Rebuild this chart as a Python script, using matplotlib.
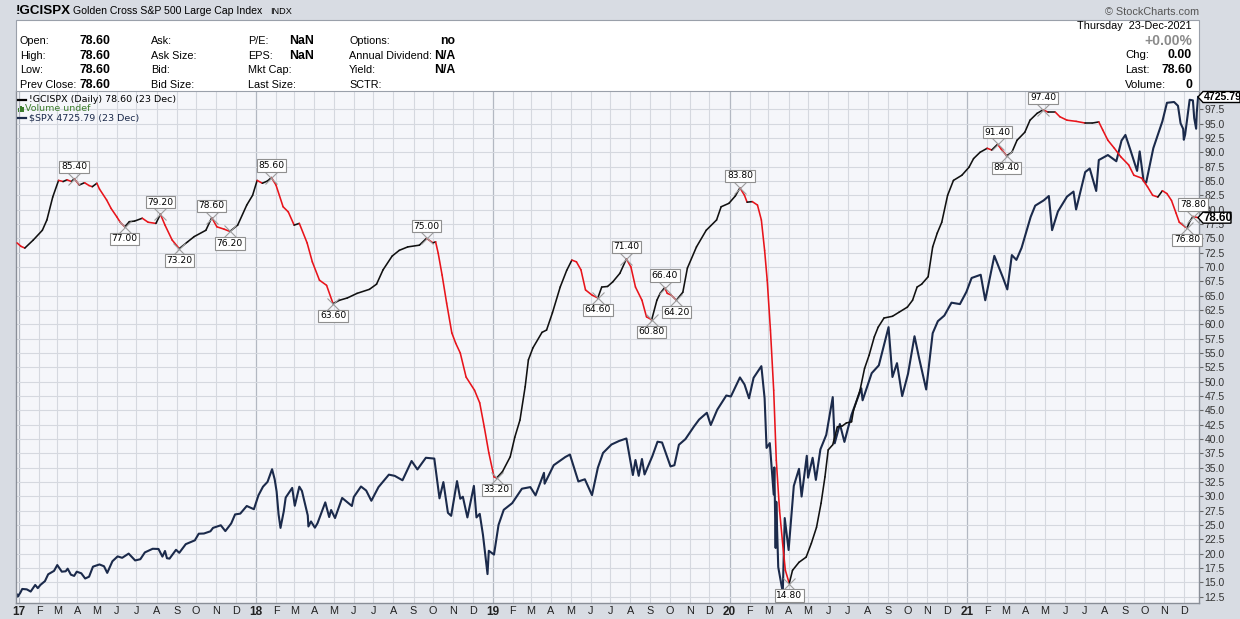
import datetime as dt
import numpy as np
import matplotlib
matplotlib.use("Agg")
import matplotlib.pyplot as plt
import matplotlib.dates as mdates
from matplotlib.collections import LineCollection
from matplotlib.lines import Line2D
from matplotlib.patches import Rectangle, Polygon
from matplotlib.transforms import IdentityTransform

# ---------------- data ----------------
gc_dates = [
    "2016-12-29", "2017-01-04", "2017-01-10", "2017-01-23", "2017-02-06", "2017-02-13", "2017-02-22",
    "2017-03-03", "2017-03-10", "2017-03-16", "2017-03-23", "2017-03-27", "2017-04-04", "2017-04-12",
    "2017-04-19", "2017-04-24", "2017-05-01", "2017-05-05", "2017-05-16", "2017-05-23", "2017-06-01",
    "2017-06-06", "2017-06-13", "2017-06-20", "2017-06-28", "2017-07-10", "2017-07-19", "2017-07-31",
    "2017-08-07", "2017-08-14", "2017-08-25", "2017-09-05", "2017-09-18", "2017-09-28", "2017-10-16",
    "2017-10-25", "2017-11-02", "2017-11-13", "2017-11-22", "2017-12-04", "2017-12-18", "2017-12-27",
    "2018-01-03", "2018-01-11", "2018-01-19", "2018-01-25", "2018-02-01", "2018-02-12", "2018-02-20",
    "2018-03-01", "2018-03-09", "2018-03-21", "2018-03-29", "2018-04-09", "2018-04-20", "2018-04-30",
    "2018-05-10", "2018-05-22", "2018-06-06", "2018-06-25", "2018-07-06", "2018-07-16", "2018-07-30",
    "2018-08-10", "2018-08-23", "2018-09-10", "2018-09-21", "2018-10-01", "2018-10-05", "2018-10-09",
    "2018-10-15", "2018-10-22", "2018-10-30", "2018-11-05", "2018-11-12", "2018-11-21", "2018-12-04",
    "2018-12-12", "2018-12-19", "2018-12-26", "2019-01-03", "2019-01-07", "2019-01-16", "2019-01-28",
    "2019-02-04", "2019-02-12", "2019-02-20", "2019-02-25", "2019-03-04", "2019-03-18", "2019-03-25",
    "2019-04-03", "2019-04-15", "2019-04-25", "2019-05-03", "2019-05-10", "2019-05-17", "2019-05-24",
    "2019-06-03", "2019-06-12", "2019-06-18", "2019-06-27", "2019-07-05", "2019-07-16", "2019-07-26",
    "2019-08-02", "2019-08-09", "2019-08-19", "2019-08-26", "2019-09-03", "2019-09-11", "2019-09-16",
    "2019-09-23", "2019-09-27", "2019-10-03", "2019-10-11", "2019-10-21", "2019-10-28", "2019-11-11",
    "2019-11-26", "2019-12-12", "2019-12-19", "2019-12-31", "2020-01-10", "2020-01-17", "2020-01-24",
    "2020-01-28", "2020-02-05", "2020-02-13", "2020-02-19", "2020-02-24", "2020-02-28", "2020-03-04",
    "2020-03-09", "2020-03-13", "2020-03-18", "2020-03-23", "2020-03-27", "2020-04-02", "2020-04-07",
    "2020-04-17", "2020-04-28", "2020-05-06", "2020-05-14", "2020-05-21", "2020-05-27", "2020-06-01",
    "2020-06-08", "2020-06-15", "2020-06-23", "2020-06-29", "2020-07-07", "2020-07-10", "2020-07-20",
    "2020-07-27", "2020-08-03", "2020-08-11", "2020-08-17", "2020-08-26", "2020-09-08", "2020-09-18",
    "2020-10-01", "2020-10-09", "2020-10-16", "2020-10-23", "2020-11-02", "2020-11-09", "2020-11-16",
    "2020-11-23", "2020-12-02", "2020-12-11", "2020-12-24", "2021-01-04", "2021-01-11", "2021-01-21",
    "2021-02-01", "2021-02-08", "2021-02-17", "2021-02-23", "2021-03-03", "2021-03-11", "2021-03-19",
    "2021-03-31", "2021-04-08", "2021-04-19", "2021-04-28", "2021-05-06", "2021-05-17", "2021-05-24",
    "2021-06-04", "2021-06-18", "2021-07-02", "2021-07-13", "2021-07-23", "2021-07-29", "2021-08-06",
    "2021-08-16", "2021-08-26", "2021-09-07", "2021-09-15", "2021-09-27", "2021-10-06", "2021-10-14",
    "2021-10-22", "2021-10-29", "2021-11-05", "2021-11-12", "2021-11-19", "2021-11-24", "2021-12-03",
    "2021-12-06", "2021-12-10", "2021-12-15", "2021-12-23",
]
gc_values = [
    74.2, 73.6, 73.3, 74.7, 76.4, 78.2, 82.2,
    85.1, 84.9, 85.2, 84.9, 85.4, 84.3, 84.7,
    84.2, 84.0, 84.6, 83.6, 81.7, 80.2, 78.7,
    77.8, 77.0, 77.9, 78.0, 78.5, 77.8, 77.6,
    79.2, 77.3, 74.7, 73.2, 74.4, 75.3, 76.4,
    78.6, 77.0, 76.6, 76.2, 77.3, 80.8, 82.5,
    85.1, 84.6, 85.0, 85.6, 84.3, 80.5, 79.6,
    77.3, 77.6, 74.2, 70.9, 67.7, 66.8, 63.6,
    64.2, 64.6, 65.4, 66.1, 67.0, 69.5, 71.9,
    72.9, 73.5, 73.8, 75.0, 74.2, 74.4, 72.4,
    68.6, 63.7, 58.5, 56.7, 55.0, 50.8, 48.5,
    46.3, 42.1, 37.6, 33.4, 33.2, 34.3, 36.9,
    40.3, 43.3, 49.1, 53.8, 55.9, 58.6, 59.0,
    62.0, 66.5, 69.4, 71.2, 70.9, 69.5, 66.0,
    65.1, 64.6, 66.5, 66.6, 67.4, 68.9, 71.4,
    70.0, 66.5, 64.2, 61.3, 60.8, 64.2, 65.4,
    66.4, 65.4, 65.1, 64.2, 65.6, 69.8, 73.5,
    76.4, 78.2, 80.5, 81.1, 82.4, 83.8, 82.5,
    81.3, 81.4, 80.8, 78.2, 72.9, 67.7, 59.0,
    48.5, 36.3, 27.6, 21.5, 17.1, 14.8, 17.1,
    18.5, 19.4, 21.8, 24.6, 28.8, 33.4, 38.1,
    39.0, 42.1, 42.3, 42.8, 43.0, 45.0, 48.5,
    52.3, 54.6, 57.8, 59.5, 61.1, 61.4, 62.1,
    63.0, 64.2, 66.5, 67.0, 68.3, 73.5, 75.9,
    77.8, 82.5, 85.1, 86.0, 87.4, 88.9, 90.0,
    90.7, 90.4, 91.4, 90.5, 89.4, 90.0, 92.1,
    93.5, 95.6, 96.8, 97.4, 97.0, 97.0, 96.2,
    95.6, 95.4, 95.1, 95.1, 95.3, 93.9, 92.1,
    90.7, 89.2, 87.8, 86.0, 85.5, 84.0, 82.5,
    82.2, 83.3, 82.8, 81.6, 79.4, 77.8, 77.0,
    76.8, 77.9, 78.8, 78.6,
]

spx_dates = [
    "2016-12-29", "2016-12-30", "2017-01-03", "2017-01-06", "2017-01-13", "2017-01-19", "2017-01-26",
    "2017-01-30", "2017-02-03", "2017-02-10", "2017-02-15", "2017-02-24", "2017-03-01", "2017-03-08",
    "2017-03-14", "2017-03-17", "2017-03-22", "2017-03-27", "2017-03-31", "2017-04-07", "2017-04-13",
    "2017-04-19", "2017-04-25", "2017-05-05", "2017-05-12", "2017-05-17", "2017-05-25", "2017-06-02",
    "2017-06-09", "2017-06-19", "2017-06-29", "2017-07-07", "2017-07-14", "2017-07-26", "2017-08-04",
    "2017-08-10", "2017-08-14", "2017-08-17", "2017-08-21", "2017-08-31", "2017-09-05", "2017-09-15",
    "2017-09-29", "2017-10-05", "2017-10-13", "2017-10-23", "2017-10-27", "2017-11-08", "2017-11-15",
    "2017-11-24", "2017-11-30", "2017-12-08", "2017-12-18", "2017-12-29", "2018-01-05", "2018-01-12",
    "2018-01-19", "2018-01-26", "2018-01-30", "2018-02-02", "2018-02-05", "2018-02-08", "2018-02-13",
    "2018-02-16", "2018-02-26", "2018-03-02", "2018-03-09", "2018-03-13", "2018-03-22", "2018-03-23",
    "2018-03-27", "2018-04-02", "2018-04-06", "2018-04-18", "2018-04-24", "2018-04-27", "2018-05-03",
    "2018-05-14", "2018-05-29", "2018-06-01", "2018-06-12", "2018-06-20", "2018-06-28", "2018-07-09",
    "2018-07-25", "2018-08-03", "2018-08-15", "2018-08-29", "2018-09-07", "2018-09-20", "2018-10-03",
    "2018-10-11", "2018-10-17", "2018-10-24", "2018-10-29", "2018-11-07", "2018-11-12", "2018-11-16",
    "2018-11-23", "2018-12-03", "2018-12-07", "2018-12-12", "2018-12-17", "2018-12-24", "2018-12-26",
    "2019-01-03", "2019-01-10", "2019-01-18", "2019-01-31", "2019-02-15", "2019-02-28", "2019-03-08",
    "2019-03-21", "2019-03-22", "2019-04-05", "2019-04-23", "2019-04-30", "2019-05-13", "2019-05-23",
    "2019-06-03", "2019-06-12", "2019-06-20", "2019-07-03", "2019-07-15", "2019-07-26", "2019-08-05",
    "2019-08-09", "2019-08-14", "2019-08-19", "2019-08-23", "2019-09-04", "2019-09-12", "2019-09-19",
    "2019-10-02", "2019-10-08", "2019-10-15", "2019-10-25", "2019-11-07", "2019-11-15", "2019-11-27",
    "2019-12-03", "2019-12-13", "2019-12-27", "2020-01-03", "2020-01-17", "2020-01-24", "2020-01-31",
    "2020-02-07", "2020-02-19", "2020-02-24", "2020-02-27", "2020-03-03", "2020-03-09", "2020-03-10",
    "2020-03-12", "2020-03-13", "2020-03-16", "2020-03-23", "2020-03-26", "2020-04-01", "2020-04-09",
    "2020-04-17", "2020-04-21", "2020-04-29", "2020-05-01", "2020-05-08", "2020-05-13", "2020-05-20",
    "2020-05-29", "2020-06-08", "2020-06-11", "2020-06-19", "2020-06-26", "2020-07-07", "2020-07-22",
    "2020-07-24", "2020-08-07", "2020-08-18", "2020-09-02", "2020-09-08", "2020-09-15", "2020-09-23",
    "2020-10-02", "2020-10-12", "2020-10-19", "2020-10-30", "2020-11-09", "2020-11-17", "2020-11-27",
    "2020-12-08", "2020-12-21", "2020-12-31", "2021-01-08", "2021-01-22", "2021-01-29", "2021-02-12",
    "2021-02-25", "2021-03-04", "2021-03-11", "2021-03-18", "2021-03-26", "2021-04-09", "2021-04-16",
    "2021-04-29", "2021-05-07", "2021-05-12", "2021-05-21", "2021-06-04", "2021-06-14", "2021-06-18",
    "2021-07-02", "2021-07-09", "2021-07-19", "2021-07-23", "2021-08-06", "2021-08-19", "2021-08-27",
    "2021-09-02", "2021-09-10", "2021-09-20", "2021-09-24", "2021-09-30", "2021-10-04", "2021-10-15",
    "2021-10-29", "2021-11-05", "2021-11-16", "2021-11-22", "2021-11-26", "2021-11-30", "2021-12-01",
    "2021-12-03", "2021-12-10", "2021-12-15", "2021-12-17", "2021-12-20", "2021-12-21", "2021-12-23",
]
spx_values = [
    2249, 2239, 2258, 2277, 2275, 2264, 2297,
    2281, 2297, 2316, 2350, 2367, 2396, 2363,
    2365, 2378, 2348, 2342, 2363, 2355, 2329,
    2338, 2388, 2399, 2390, 2357, 2415, 2439,
    2432, 2453, 2419, 2425, 2459, 2477, 2476,
    2438, 2466, 2430, 2428, 2472, 2457, 2500,
    2519, 2552, 2553, 2564, 2581, 2594, 2565,
    2603, 2648, 2652, 2690, 2674, 2743, 2786,
    2810, 2873, 2823, 2762, 2649, 2581, 2663,
    2732, 2780, 2691, 2786, 2765, 2643, 2588,
    2613, 2582, 2604, 2708, 2635, 2670, 2630,
    2730, 2690, 2735, 2787, 2767, 2716, 2784,
    2846, 2840, 2818, 2914, 2872, 2930, 2926,
    2728, 2809, 2656, 2641, 2814, 2726, 2736,
    2633, 2790, 2633, 2651, 2546, 2351, 2467,
    2448, 2596, 2671, 2704, 2776, 2784, 2743,
    2855, 2801, 2893, 2934, 2946, 2812, 2823,
    2744, 2880, 2954, 2996, 3014, 3026, 2844,
    2919, 2840, 2924, 2847, 2938, 3010, 3006,
    2887, 2893, 2995, 3023, 3085, 3120, 3154,
    3093, 3169, 3240, 3235, 3330, 3295, 3226,
    3328, 3386, 3226, 2979, 3003, 2747, 2882,
    2481, 2711, 2386, 2260, 2630, 2471, 2790,
    2875, 2737, 2940, 2831, 2930, 2820, 2972,
    3044, 3232, 3002, 3098, 3009, 3145, 3276,
    3216, 3351, 3390, 3580, 3332, 3401, 3237,
    3348, 3535, 3427, 3270, 3550, 3610, 3638,
    3702, 3695, 3756, 3825, 3841, 3714, 3935,
    3829, 3768, 3939, 3915, 3975, 4129, 4185,
    4211, 4233, 4063, 4156, 4230, 4255, 4166,
    4352, 4370, 4258, 4412, 4437, 4406, 4509,
    4537, 4459, 4358, 4455, 4308, 4300, 4471,
    4605, 4697, 4701, 4682, 4595, 4567, 4513,
    4538, 4712, 4709, 4621, 4568, 4649, 4726,
]

peak_dates = ["2017-03-27", "2017-08-07", "2017-10-25", "2018-01-25", "2018-09-21", "2019-07-26",
              "2019-09-23", "2020-01-17", "2021-02-17", "2021-04-28", "2021-12-15"]
peak_values = [85.40, 79.20, 78.60, 85.60, 75.00, 71.40, 66.40, 83.80, 91.40, 97.40, 78.80]
trough_dates = ["2017-06-13", "2017-09-05", "2017-11-22", "2018-04-30", "2019-01-07", "2019-06-12",
                "2019-09-03", "2019-10-11", "2020-04-02", "2021-03-03", "2021-12-06"]
trough_values = [77.00, 73.20, 76.20, 63.60, 33.20, 64.60, 60.80, 64.20, 14.80, 89.40, 76.80]

month_letters = ["J", "F", "M", "A", "M", "J", "J", "A", "S", "O", "N", "D"]
years = [2017, 2018, 2019, 2020, 2021]
gc_last = 78.60
spx_last = 4725.79

# ---------------- figure ----------------
W, H = 1240, 619
fig = plt.figure(figsize=(W / 100, H / 100), dpi=100)
fig.patch.set_facecolor("#d8dce3")

SANS = "Liberation Sans"


def FX(px):
    return px / W


def FY(py):
    return 1 - py / H


L, R, T, B = 16, 1199, 91, 603
ax = fig.add_axes([FX(L), FY(B), FX(R) - FX(L), FY(T) - FY(B)])
ax2 = ax.twinx()
ax2.set_visible(False)

base = mdates.date2num(dt.date(2017, 1, 1))
ax.set_xlim(base - 4.6, base + 1818.4)
ax.set_ylim(11.40, 100.69)
ax2.set_ylim(2207.1, 4755.7)
ax.set_facecolor("#f5f6fa")


def to_num(ds):
    return mdates.date2num([dt.datetime.strptime(d, "%Y-%m-%d") for d in ds])


# grid
month_x = []
month_lab = []
for y in years:
    for m in range(1, 13):
        xm = mdates.date2num(dt.date(y, m, 1))
        month_x.append(xm)
        month_lab.append(str(y)[2:] if m == 1 else month_letters[m - 1])
        ax.axvline(xm, color="#b3b8c2" if m == 1 else "#d5d8df", lw=0.9 if m == 1 else 0.8, zorder=0.5)
ytick_vals = np.arange(12.5, 97.6, 2.5)
for v in ytick_vals:
    ax.axhline(v, color="#d5d8df", lw=0.8, zorder=0.5)

# SPX (overlay on its own hidden scale)
spx_x = to_num(spx_dates)
spx_line = Line2D(spx_x, spx_values, transform=ax2.transData, color="#1b2a4b", lw=1.5, zorder=2,
                  solid_joinstyle="round")
spx_line.set_clip_path(ax.patch)
ax.add_artist(spx_line)

# GCISPX line coloured by direction
gx = to_num(gc_dates)
pts = np.column_stack([gx, gc_values])
segs = np.stack([pts[:-1], pts[1:]], axis=1)
cols = ["#e8141b" if b < a else "#111111" for a, b in zip(gc_values[:-1], gc_values[1:])]
lc = LineCollection(segs, colors=cols, linewidths=1.15, zorder=3, capstyle="round", joinstyle="round")
ax.add_collection(lc)

# peak / trough labels
bbox = dict(boxstyle="square,pad=0.18", fc="white", ec="#8f8f8f", lw=0.8)
for ds, v in zip(peak_dates, peak_values):
    xv = to_num([ds])[0]
    ax.plot([xv], [v], marker="x", ms=8, mew=0.8, color="#9c9c9c", zorder=4)
    ax.annotate(f"{v:.2f}", (xv, v), xytext=(0, 12), textcoords="offset pixels", ha="center", va="center",
                fontsize=6.6, family="DejaVu Sans", bbox=bbox, zorder=5, annotation_clip=False)
for ds, v in zip(trough_dates, trough_values):
    xv = to_num([ds])[0]
    ax.plot([xv], [v], marker="x", ms=8, mew=0.8, color="#9c9c9c", zorder=4)
    ax.annotate(f"{v:.2f}", (xv, v), xytext=(0, -12), textcoords="offset pixels", ha="center", va="center",
                fontsize=6.6, family="DejaVu Sans", bbox=bbox, zorder=5, annotation_clip=False)

# axes styling
ax.yaxis.tick_right()
ax.set_yticks(ytick_vals)
ax.set_yticklabels([f"{v:.1f}" for v in ytick_vals], family=SANS)
ax.tick_params(axis="y", length=3, width=0.8, color="#666666", labelsize=7.5, pad=1, labelcolor="#333333")
ax.set_xticks(month_x)
ax.set_xticklabels(month_lab, family=SANS)
ax.tick_params(axis="x", length=0, pad=2.5, labelsize=7.8, labelcolor="#222222")
for t, lab in zip(ax.get_xticklabels(), month_lab):
    if lab.isdigit():
        t.set_fontweight("bold")
        t.set_fontsize(8.5)
ax.spines["top"].set_visible(False)
for s in ("left", "right", "bottom"):
    ax.spines[s].set_color("#8a8f98")
    ax.spines[s].set_linewidth(1.0)


# right value tags
def right_tag(ydisp, text, width, fsize):
    x0 = R - 1
    h = 11
    poly = [(x0, ydisp), (x0 + 5, ydisp + h / 2), (x0 + width, ydisp + h / 2),
            (x0 + width, ydisp - h / 2), (x0 + 5, ydisp - h / 2)]
    fig.add_artist(Polygon(poly, closed=True, transform=IdentityTransform(), fc="white",
                           ec="black", lw=1.0, zorder=10))
    fig.text((x0 + 5.5) / W, ydisp / H, text, ha="left", va="center", fontsize=fsize,
             fontweight="bold", family=SANS, zorder=11)


right_tag(ax.transData.transform((0, gc_last))[1], f"{gc_last:.2f}", 33, 8.3)
right_tag(ax2.transData.transform((0, spx_last))[1], f"{spx_last:.2f}", 42, 7.6)

# ---------------- header ----------------
fig.add_artist(Rectangle((FX(16), FY(91)), FX(1199) - FX(16), FY(20) - FY(91), transform=fig.transFigure,
                         fc="white", ec="#9aa0aa", lw=0.8, zorder=1))
fig.text(FX(16), FY(11), "!GCISPX", fontsize=9.6, fontweight="bold", family=SANS, va="center")
fig.text(FX(73), FY(11.5), "Golden Cross S&P 500 Large Cap Index", fontsize=7.6, family=SANS, va="center")
fig.text(FX(270), FY(12), "INDX", fontsize=6.6, family=SANS, va="center")
fig.text(FX(1199), FY(12), "\u00a9 StockCharts.com", fontsize=7.8, family=SANS, va="center", ha="right",
         color="#555555")

rows_y = [41.5, 55.8, 70.2, 84.5]
col1 = ["Open:", "High:", "Low:", "Prev Close:"]
col2 = ["Ask:", "Ask Size:", "Bid:", "Bid Size:"]
col3 = ["P/E:", "EPS:", "Mkt Cap:", "Last Size:"]
col4 = ["Options:", "Annual Dividend:", "Yield:", "SCTR:"]
col3_vals = ["NaN", "NaN", "", ""]
col4_vals = ["no", "N/A", "N/A", ""]
for i, yy in enumerate(rows_y):
    fig.text(FX(20), FY(yy), col1[i], fontsize=7.8, family=SANS, va="center")
    fig.text(FX(80), FY(yy), f"{gc_last:.2f}", fontsize=8.8, fontweight="bold", family=SANS, va="center")
    fig.text(FX(151), FY(yy), col2[i], fontsize=7.8, family=SANS, va="center")
    fig.text(FX(248), FY(yy), col3[i], fontsize=7.8, family=SANS, va="center")
    fig.text(FX(289), FY(yy), col3_vals[i], fontsize=8.8, fontweight="bold", family=SANS, va="center")
    fig.text(FX(349), FY(yy), col4[i], fontsize=7.8, family=SANS, va="center")
    fig.text(FX(455), FY(yy), col4_vals[i], fontsize=8.8, fontweight="bold", family=SANS, va="center",
             ha="right")

fig.text(FX(1192), FY(26), "Thursday  23-Dec-2021", fontsize=7.8, family=SANS, va="center", ha="right")
fig.text(FX(1192), FY(41), "+0.00%", fontsize=10, fontweight="bold", family=SANS, va="center", ha="right",
         color="#8a8a8a")
for yy, lab, val in [(55.5, "Chg:", "0.00"), (70, "Last:", f"{gc_last:.2f}"), (84.5, "Volume:", "0")]:
    fig.text(FX(1125), FY(yy), lab, fontsize=8.2, family=SANS, va="center")
    fig.text(FX(1192), FY(yy), val, fontsize=8.8, fontweight="bold", family=SANS, va="center", ha="right")

# legend inside plot
fig.add_artist(Line2D([FX(18), FX(26)], [FY(99.5), FY(99.5)], color="black", lw=1.6, transform=fig.transFigure))
fig.text(FX(29), FY(99.5), f"!GCISPX (Daily) {gc_last:.2f} (23 Dec)", fontsize=6.8, family="DejaVu Sans",
         va="center")
for k, hgt in enumerate([4, 6, 5]):
    fig.add_artist(Rectangle((FX(18 + k * 2.2), FY(112)), 1.4 / W, hgt / H, transform=fig.transFigure,
                             fc="#3c7d2c", ec="none"))
fig.text(FX(25), FY(108.8), "Volume undef", fontsize=6.8, family="DejaVu Sans", va="center", color="#3c7d2c")
fig.add_artist(Line2D([FX(18), FX(26)], [FY(118), FY(118)], color="#1b2a4b", lw=1.6, transform=fig.transFigure))
fig.text(FX(29), FY(118), f"\\$SPX {spx_last:.2f} (23 Dec)", fontsize=6.8, family="DejaVu Sans",
         va="center", color="#1b2a4b")

fig.savefig("out.png", dpi=100, facecolor=fig.get_facecolor())
